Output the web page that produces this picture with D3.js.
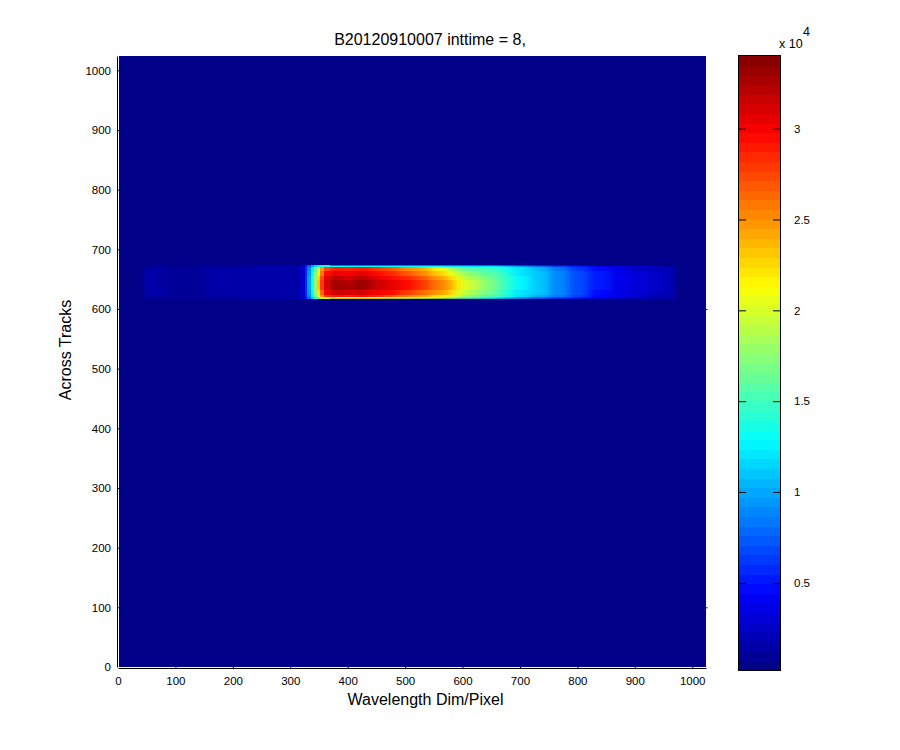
<!DOCTYPE html>
<html>
<head>
<meta charset="utf-8">
<script src="https://cdnjs.cloudflare.com/ajax/libs/d3/7.8.5/d3.min.js"></script>
<style>
html,body{margin:0;padding:0;background:#fff}
svg{display:block}
text{font-family:"Liberation Sans",Arial,sans-serif;fill:#000}
.tick text{font-size:11.5px}
</style>
</head>
<body>
<svg id="c" width="900" height="750"></svg>
<script>
const titleText = "B20120910007 inttime = 8,";
const xLabel = "Wavelength Dim/Pixel";
const yLabel = "Across Tracks";
const xTicks = [0,100,200,300,400,500,600,700,800,900,1000];
const yTicks = [0,100,200,300,400,500,600,700,800,900,1000];
const cbTicks = [0.5,1,1.5,2,2.5,3];
const axisLimit = 1024;
const colorMin = 0.02, colorMax = 3.40; // units of 10^4
const backgroundValue = 0.03;
const colEdges = [43,82,108,151,212,264,317,325,330,336,341,346,351,358,369,386,412,438,464,490,517,543,569,586,603,630,656,673,690,717,751,786,821,856,890,925,951,972];
const rowEdges = [673,670,664,656,648,640,632,624,620,617];
const bandValues = [
[.11,.10,.09,.12,.13,.14,.26,.5,.75,1.0,1.15,1.25,1.3,1.35,1.35,1.3,1.3,1.3,1.3,1.3,1.3,1.3,1.25,1.25,1.2,1.2,1.15,1.05,.95,.8,.65,.5,.38,.3,.24,.2,.16],
[.13,.12,.10,.14,.15,.16,.28,.55,.9,1.25,1.6,2.0,2.45,2.75,2.9,2.85,2.9,2.8,2.7,2.55,2.4,2.15,1.95,1.75,1.6,1.5,1.42,1.3,1.2,1.05,.85,.65,.46,.35,.27,.22,.18],
[.13,.12,.10,.14,.15,.16,.28,.58,.95,1.3,1.7,2.15,2.6,2.95,3.05,3.0,3.05,2.95,2.85,2.7,2.55,2.3,2.1,1.9,1.72,1.6,1.5,1.37,1.22,1.08,.88,.67,.5,.38,.3,.24,.19],
[.13,.12,.10,.14,.15,.16,.28,.6,1.0,1.35,1.8,2.25,2.75,3.05,3.2,3.12,3.2,3.05,2.95,2.85,2.7,2.45,2.25,2.03,1.85,1.68,1.55,1.4,1.25,1.1,.9,.68,.52,.4,.31,.24,.2],
[.13,.12,.10,.14,.15,.16,.28,.6,1.0,1.35,1.8,2.3,2.8,3.1,3.3,3.22,3.3,3.15,3.05,2.95,2.8,2.6,2.4,2.15,1.95,1.75,1.6,1.42,1.25,1.1,.9,.68,.5,.38,.3,.24,.2],
[.13,.12,.10,.14,.15,.16,.28,.6,1.0,1.35,1.8,2.3,2.8,3.1,3.32,3.25,3.32,3.15,3.05,2.95,2.8,2.6,2.4,2.15,1.95,1.75,1.58,1.4,1.24,1.1,.9,.68,.5,.38,.3,.24,.2],
[.13,.12,.10,.14,.15,.16,.28,.58,.95,1.3,1.75,2.2,2.65,3.0,3.15,3.1,3.12,3.0,2.95,2.8,2.65,2.45,2.3,2.05,1.85,1.68,1.52,1.38,1.22,1.08,.88,.66,.48,.37,.29,.23,.19],
[.13,.12,.10,.14,.15,.16,.28,.55,.9,1.25,1.6,2.0,2.45,2.8,2.95,2.9,2.95,2.85,2.7,2.55,2.4,2.2,2.05,1.9,1.7,1.55,1.45,1.3,1.17,1.02,.82,.62,.46,.35,.27,.22,.18],
[.11,.10,.09,.12,.13,.14,.26,.5,.8,1.1,1.4,1.6,1.85,2.05,2.1,2.1,2.15,2.1,2.05,2.05,1.95,1.9,1.8,1.65,1.5,1.35,1.22,1.1,.95,.8,.65,.5,.36,.28,.22,.18,.14]
];
const rightStubs = [100,600];
const sharpColumns = [5,6,7,8,9,10,11,12,13]; // narrow columns of the steep rising edge

const svg = d3.select("#c");
const x = d3.scaleLinear().domain([0,axisLimit]).range([118,706]);
const y = d3.scaleLinear().domain([0,axisLimit]).range([667,56]);

// MATLAB jet, 64 levels
const jetStops = d3.scaleLinear()
  .domain([0,.125,.375,.625,.875,1])
  .range(["rgb(0,0,128)","rgb(0,0,255)","rgb(0,255,255)","rgb(255,255,0)","rgb(255,0,0)","rgb(128,0,0)"])
  .interpolate(d3.interpolateRgb);
const levels = d3.range(64);
const jet = levels.map(i => jetStops((i+.5)/64));
const color = d3.scaleQuantize().domain([colorMin,colorMax]).range(jet);

// axes (image sits over the ticks, MATLAB style)
const gx = svg.append("g").attr("transform","translate(0,668)")
  .call(d3.axisBottom(x).tickValues(xTicks).tickFormat(d3.format("d")).tickSizeInner(-6).tickSizeOuter(0).tickPadding(9));
const gy = svg.append("g").attr("transform","translate(117,0)")
  .call(d3.axisLeft(y).tickValues(yTicks).tickFormat(d3.format("d")).tickSizeInner(-6).tickSizeOuter(0).tickPadding(6));
gx.selectAll(".tick").filter(d=>d===0).select("line").remove();
gy.selectAll(".tick").filter(d=>d===0).select("line").remove();
svg.append("g").attr("transform","translate(706,0)")
  .call(d3.axisRight(y).tickValues(rightStubs).tickFormat("").tickSizeInner(1.5).tickSizeOuter(0))
  .select(".domain").remove();

// image
const defs = svg.append("defs");
defs.append("filter").attr("id","soft").attr("filterUnits","userSpaceOnUse")
  .attr("x",100).attr("y",200).attr("width",640).attr("height",160)
  .attr("color-interpolation-filters","sRGB")
  .append("feGaussianBlur").attr("stdDeviation","5 0");
defs.append("clipPath").attr("id","bandClip").append("rect")
  .attr("x",x(colEdges[0])).attr("y",y(rowEdges[0]))
  .attr("width",x(colEdges[colEdges.length-1])-x(colEdges[0]))
  .attr("height",y(rowEdges[rowEdges.length-1])-y(rowEdges[0]));

const img = svg.append("g").attr("shape-rendering","crispEdges");
img.append("rect")
  .attr("x",x(0)+1).attr("y",y(axisLimit))
  .attr("width",x(axisLimit)-x(0)-1).attr("height",y(0)-y(axisLimit))
  .attr("fill",color(backgroundValue));

function drawCell(g,v,c,r){
  g.append("rect")
    .attr("x",x(colEdges[c])).attr("y",y(rowEdges[r]))
    .attr("width",x(colEdges[c+1])-x(colEdges[c])+.4)
    .attr("height",y(rowEdges[r+1])-y(rowEdges[r]))
    .attr("fill",color(v));
}
const soft = img.append("g").attr("clip-path","url(#bandClip)").append("g").attr("filter","url(#soft)");
const sharp = img.append("g");
bandValues.forEach((row,r)=>{
  row.forEach((v,c)=>{
    drawCell(soft,v,c,r);
    if (sharpColumns.includes(c)) drawCell(sharp,v,c,r);
  });
});

// colorbar
const cbY = d3.scaleLinear().domain([colorMin,colorMax]).range([670,56]);
const cbL = 739, cbR = 780;
const cb = svg.append("g").attr("shape-rendering","crispEdges");
levels.forEach(i=>{
  const v0 = colorMin+(colorMax-colorMin)*i/64, v1 = colorMin+(colorMax-colorMin)*(i+1)/64;
  cb.append("rect").attr("x",cbL).attr("width",cbR-cbL)
    .attr("y",cbY(v1)).attr("height",cbY(v0)-cbY(v1)+.5).attr("fill",jet[i]);
});
svg.append("rect").attr("x",cbL-.5).attr("y",55.5).attr("width",cbR-cbL+1).attr("height",614.5)
  .attr("fill","none").attr("stroke","#000").attr("shape-rendering","crispEdges");
const cbAxisR = svg.append("g").attr("transform",`translate(${cbR},0)`)
  .call(d3.axisRight(cbY).tickValues(cbTicks).tickFormat(d=>String(d)).tickSizeInner(-7).tickSizeOuter(0).tickPadding(14));
cbAxisR.select(".domain").remove();
const cbAxisL = svg.append("g").attr("transform",`translate(${cbL},0)`)
  .call(d3.axisLeft(cbY).tickValues(cbTicks).tickFormat("").tickSizeInner(-7).tickSizeOuter(0));
cbAxisL.select(".domain").remove();

svg.append("text").attr("x",779).attr("y",48).attr("font-size",12.5).text("x 10");
svg.append("text").attr("x",803).attr("y",36).attr("font-size",12.5).text("4");

// titles
svg.append("text").attr("x",430).attr("y",45).attr("text-anchor","middle").attr("font-size",16).text(titleText);
svg.append("text").attr("x",425.5).attr("y",705).attr("text-anchor","middle").attr("font-size",16).text(xLabel);
svg.append("text").attr("transform","translate(71,350) rotate(-90)").attr("text-anchor","middle").attr("font-size",16).text(yLabel);
</script>
</body>
</html>
